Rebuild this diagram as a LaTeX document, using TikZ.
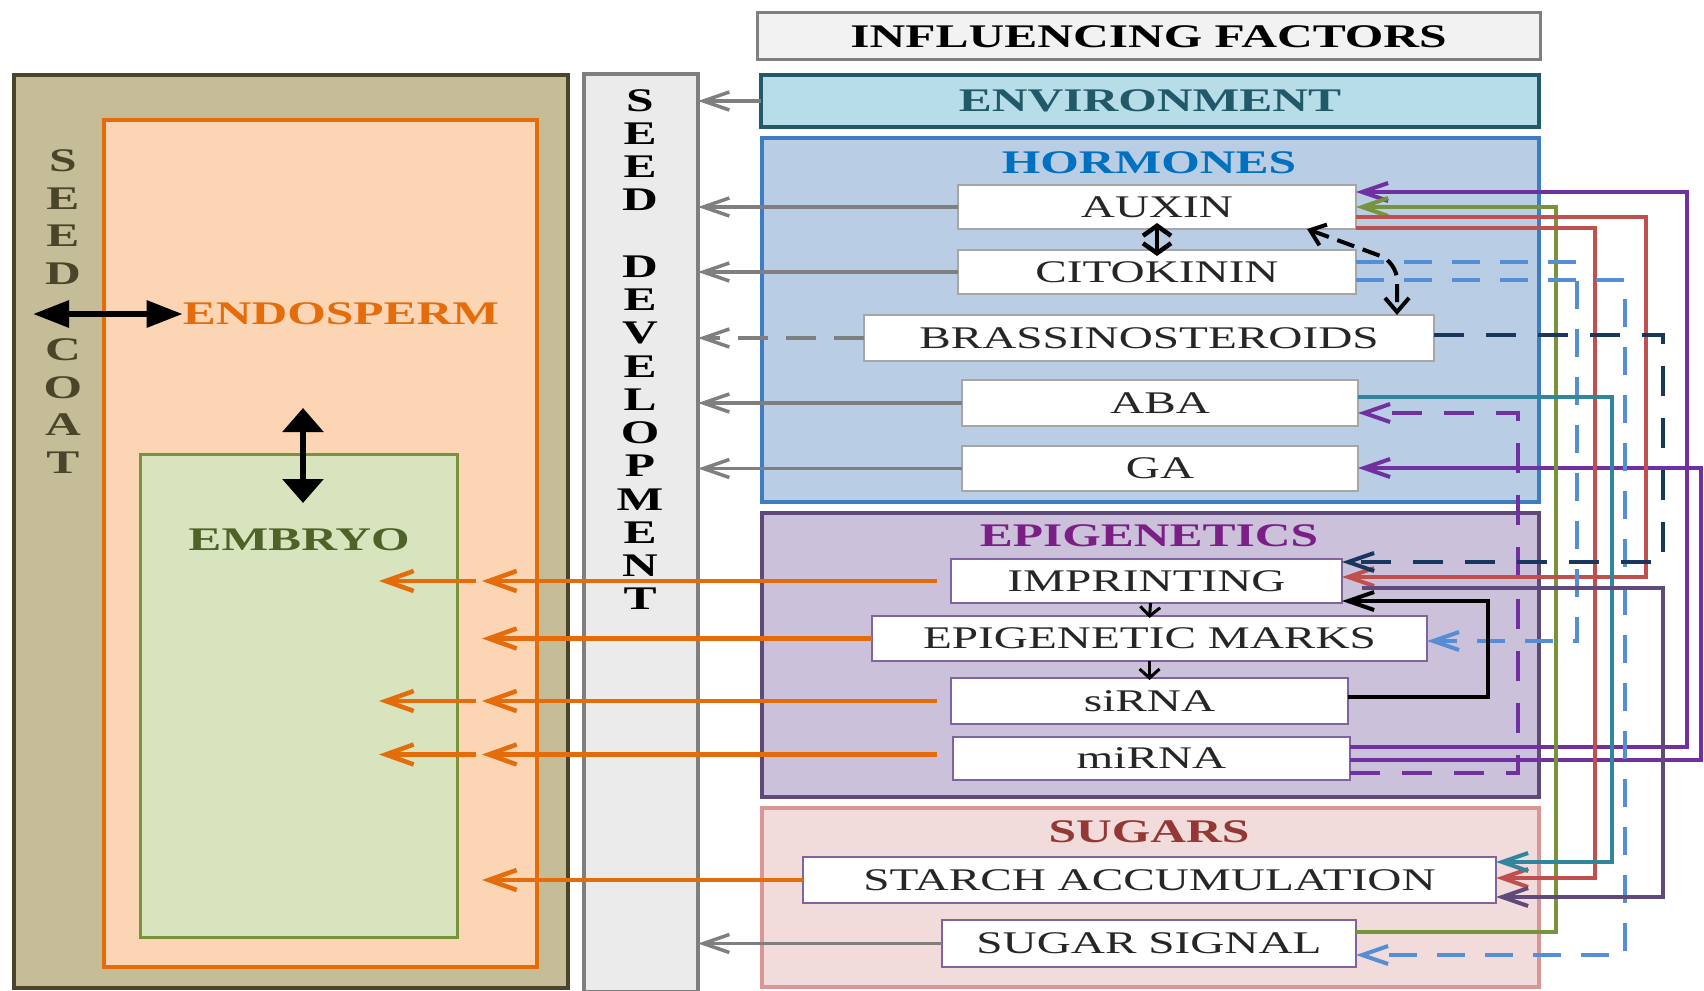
\documentclass[tikz,border=0pt]{standalone}
\usepackage{fontspec}
\setmainfont{Liberation Serif}[FakeStretch=1.5]
\usetikzlibrary{arrows.meta,calc}
\definecolor{coatfill}{HTML}{C4BD97}\definecolor{coatdraw}{HTML}{4A452A}
\definecolor{endofill}{HTML}{FCD5B5}\definecolor{endodraw}{HTML}{E46C0A}
\definecolor{embfill}{HTML}{D7E4BD}\definecolor{embdraw}{HTML}{77933C}\definecolor{embtext}{HTML}{4F6228}
\definecolor{devfill}{HTML}{EBEBEB}\definecolor{devdraw}{HTML}{7F7F7F}
\definecolor{iffill}{HTML}{F2F2F2}
\definecolor{envfill}{HTML}{B7DEE8}\definecolor{envdraw}{HTML}{215968}
\definecolor{hormfill}{HTML}{B9CDE5}\definecolor{hormdraw}{HTML}{3E7CC4}\definecolor{hormtext}{HTML}{0070C0}
\definecolor{epifill}{HTML}{CCC1DA}\definecolor{epidraw}{HTML}{5F497A}\definecolor{epitext}{HTML}{7B1F86}
\definecolor{sugfill}{HTML}{F2DCDB}\definecolor{sugdraw}{HTML}{DA9694}\definecolor{sugtext}{HTML}{953735}
\definecolor{hbord}{HTML}{A6A6A6}\definecolor{pbord}{HTML}{8064A2}
\definecolor{cpur}{HTML}{7030A0}\definecolor{cgrn}{HTML}{77933C}\definecolor{cred}{HTML}{C0504D}
\definecolor{cteal}{HTML}{31859C}\definecolor{clbl}{HTML}{558ED5}\definecolor{cnavy}{HTML}{17375E}
\definecolor{cdpur}{HTML}{604A7B}\definecolor{cora}{HTML}{E46C0A}\definecolor{cgry}{HTML}{7F7F7F}
\newcommand{\hdrfont}{\fontsize{33}{38}\selectfont\bfseries}
\newcommand{\boxfont}{\fontsize{31.5}{36}\selectfont}
\begin{document}
\begin{tikzpicture}[x=1pt,y=-1pt,
  frame/.style={draw, line width=4pt, inner sep=0pt, outer sep=0pt},
  ibox/.style={draw, fill=white, line width=2pt, inner sep=0pt, outer sep=0pt, font=\boxfont, text=black!85},
  hdr/.style={font=\hdrfont, inner sep=0pt},
  arr/.style={-{Straight Barb[length=26pt,width=18pt]}},
  conn/.style={line width=4pt, arr},
  gry/.style={conn, draw=cgry, line width=3.5pt},
  ora/.style={conn, draw=cora, line width=4.5pt, -{Straight Barb[length=28pt,width=20pt]}},
  lbl/.style={dash pattern=on 28pt off 20pt},
  ndash/.style={dash pattern=on 30pt off 22pt}
]
\fill[white] (0,0) rectangle (1704,990);
\useasboundingbox (0,0) rectangle (1704,990);

% ---------- left part
\node[frame, draw=coatdraw, fill=coatfill, minimum width=554pt, minimum height=913pt] (coat) at (291,531.5) {};
\node[frame, draw=endodraw, fill=endofill, minimum width=433pt, minimum height=847pt] (endo) at (320.5,543.5) {};
\node[frame, draw=embdraw, fill=embfill, line width=3pt, minimum width=317pt, minimum height=483pt] (emb) at (298.5,695.5) {};
\node[frame, draw=devdraw, fill=devfill, minimum width=114pt, minimum height=918pt] (dev) at (641,533) {};

\node[font=\fontsize{33}{37.8}\selectfont\bfseries, text=coatdraw, align=center, inner sep=0pt] (coatlbl) at (63,311.5) {S\\E\\E\\D\\\mbox{}\\C\\O\\A\\T};
\node[font=\fontsize{33}{33.25}\selectfont\bfseries, align=center, inner sep=0pt] (devlbl) at (640,349.5) {S\\E\\E\\D\\\mbox{}\\D\\E\\V\\E\\L\\O\\P\\M\\E\\N\\T};
\node[hdr, text=endodraw] (endolbl) at (341,314) {ENDOSPERM};
\node[hdr, text=embtext] (emblbl) at (299,540) {EMBRYO};

% ---------- right part
\node[frame, draw=devdraw, fill=iffill, line width=3pt, minimum width=783pt, minimum height=47pt, font=\hdrfont] (inf) at (1148.5,36.5) {INFLUENCING FACTORS};
\node[frame, draw=envdraw, fill=envfill, minimum width=778pt, minimum height=52pt, font=\hdrfont, text=envdraw] (env) at (1150,101) {ENVIRONMENT};
\node[frame, draw=hormdraw, fill=hormfill, minimum width=777pt, minimum height=364pt] (horm) at (1150.5,320) {};
\node[frame, draw=epidraw, fill=epifill, minimum width=777pt, minimum height=284pt] (epi) at (1150.5,655) {};
\node[frame, draw=sugdraw, fill=sugfill, minimum width=777pt, minimum height=179pt] (sug) at (1150.5,897.5) {};
\node[hdr, text=hormtext] (hormlbl) at (1149,163) {HORMONES};
\node[hdr, text=epitext] (epilbl) at (1149,536) {EPIGENETICS};
\node[hdr, text=sugtext] (suglbl) at (1149,832) {SUGARS};

\node[ibox, draw=hbord, minimum width=398pt, minimum height=44pt] (auxin) at (1157,207) {AUXIN};
\node[ibox, draw=hbord, minimum width=398pt, minimum height=44pt] (cito) at (1157,272) {CITOKININ};
\node[ibox, draw=hbord, minimum width=570pt, minimum height=46pt] (brass) at (1149,338) {BRASSINOSTEROIDS};
\node[ibox, draw=hbord, minimum width=396pt, minimum height=46pt] (aba) at (1160,403) {ABA};
\node[ibox, draw=hbord, minimum width=396pt, minimum height=45pt] (ga) at (1160,468.5) {GA};
\node[ibox, draw=pbord, minimum width=391pt, minimum height=44pt] (impr) at (1146.5,581) {IMPRINTING};
\node[ibox, draw=pbord, minimum width=555pt, minimum height=45pt] (emarks) at (1149.5,638.5) {EPIGENETIC MARKS};
\node[ibox, draw=pbord, minimum width=397pt, minimum height=46pt] (sirna) at (1149.5,701) {siRNA};
\node[ibox, draw=pbord, minimum width=397pt, minimum height=43pt] (mirna) at (1151.5,758.5) {miRNA};
\node[ibox, draw=pbord, minimum width=693pt, minimum height=46pt] (starch) at (1149.5,880) {STARCH ACCUMULATION};
\node[ibox, draw=pbord, minimum width=414pt, minimum height=47pt] (ssig) at (1149,943.5) {SUGAR SIGNAL};

% ---------- gray arrows to seed development
\draw[gry] (env.west) -- (env.west -| dev.east);
\draw[gry] (auxin.west) -- (auxin.west -| dev.east);
\draw[gry] (cito.west) -- (cito.west -| dev.east);
\draw[gry, dash pattern=on 30pt off 18pt] (brass.west) -- (brass.west -| dev.east);
\draw[gry] (aba.west) -- (aba.west -| dev.east);
\draw[gry] (ga.west) -- (ga.west -| dev.east);
\draw[gry] (ssig.west) -- (ssig.west -| dev.east);

% ---------- orange arrows
\coordinate (endoIn) at (482,0);
\coordinate (embStart) at (476,0);
\coordinate (embIn) at (379,0);
\draw[ora] ($(impr.west)+(-14,0)$) -- (impr.west -| endoIn);
\draw[ora] (impr.west -| embStart) -- (impr.west -| embIn);
\draw[ora] (emarks.west) -- (emarks.west -| endoIn);
\draw[ora] ($(sirna.west)+(-14,0)$) -- (sirna.west -| endoIn);
\draw[ora] (sirna.west -| embStart) -- (sirna.west -| embIn);
\draw[ora] ($(mirna.west)+(-16,-4)$) -- ($(mirna.west -| endoIn)+(0,-4)$);
\draw[ora] ($(mirna.west -| embStart)+(0,-4)$) -- ($(mirna.west -| embIn)+(0,-4)$);
\draw[ora] (starch.west) -- (starch.west -| endoIn);

% ---------- big black arrows
\coordinate (coatpt) at (33,314);
\coordinate (endopt) at (303,408);
\coordinate (embpt) at (303,503);
\draw[line width=6pt, {Triangle[length=36pt,width=26pt]}-{Triangle[length=36pt,width=26pt]}] (coatpt) -- (endolbl.west);
\draw[line width=6pt, {Triangle[length=24pt,width=40pt]}-{Triangle[length=24pt,width=40pt]}] (endopt) -- (embpt);

% ---------- black small arrows
\draw[line width=4.5pt, {Straight Barb[length=10pt,width=28pt]}-{Straight Barb[length=10pt,width=28pt]}] ($(auxin.south)+(0,-6)$) -- ($(cito.north)+(0,6)$);
\draw[line width=3pt, -{Straight Barb[length=9pt,width=20pt]}] ($(impr.south)+(4,0)$) -- ($(emarks.north)+(0,2)$);
\draw[line width=3pt, -{Straight Barb[length=9pt,width=20pt]}] (emarks.south) -- ($(sirna.north)+(0,2)$);
\coordinate (auxbr) at ($(auxin.south east)+(-49,0)$);
\coordinate (brtop) at (brass.north -| 1397,0);
\draw[line width=4pt, dash pattern=on 18pt off 9pt, rounded corners=18pt, {Straight Barb[length=14pt,width=22pt]}-{Straight Barb[length=14pt,width=24pt]}] (auxbr) -- (1397,262) -- (brtop);

% ---------- right connectors
\draw[conn, draw=cpur] (mirna.east |- 0,747) -| (1687,192) -- (auxin.east |- 0,192);
\draw[conn, draw=cpur] (mirna.east |- 0,760) -| (1701,468) -- (ga.east |- 0,468);
\draw[conn, draw=cpur, ndash] (mirna.east |- 0,773) -| (1518,413) -- (aba.east |- 0,413);
\draw[conn, draw=cgrn] (ssig.east |- 0,932) -| (1556,207) -- (auxin.east |- 0,207);
\draw[conn, draw=cred] (auxin.east |- 0,217) -| (1646,577) -- (impr.east |- 0,577);
\draw[conn, draw=cred] (auxin.east |- 0,228) -| (1595,878) -- (starch.east |- 0,878);
\draw[conn, draw=clbl, lbl] (cito.east |- 0,262) -| (1577,641) -- (emarks.east |- 0,641);
\draw[conn, draw=clbl, lbl] (cito.east |- 0,280) -| (1625,955) -- (ssig.east |- 0,955);
\draw[conn, draw=cnavy, ndash] (brass.east |- 0,335) -| (1663,562) -- (impr.east |- 0,562);
\draw[conn, draw=cteal] (aba.east |- 0,397) -| (1612,862) -- (starch.east |- 0,862);
\draw[conn, draw=cdpur] ($(impr.east |- 0,588)+(20,0)$) -| (1663,897) -- (starch.east |- 0,897);
\draw[conn, draw=black] (sirna.east |- 0,697) -| (1488,601) -- (impr.east |- 0,601);
\end{tikzpicture}
\end{document}
